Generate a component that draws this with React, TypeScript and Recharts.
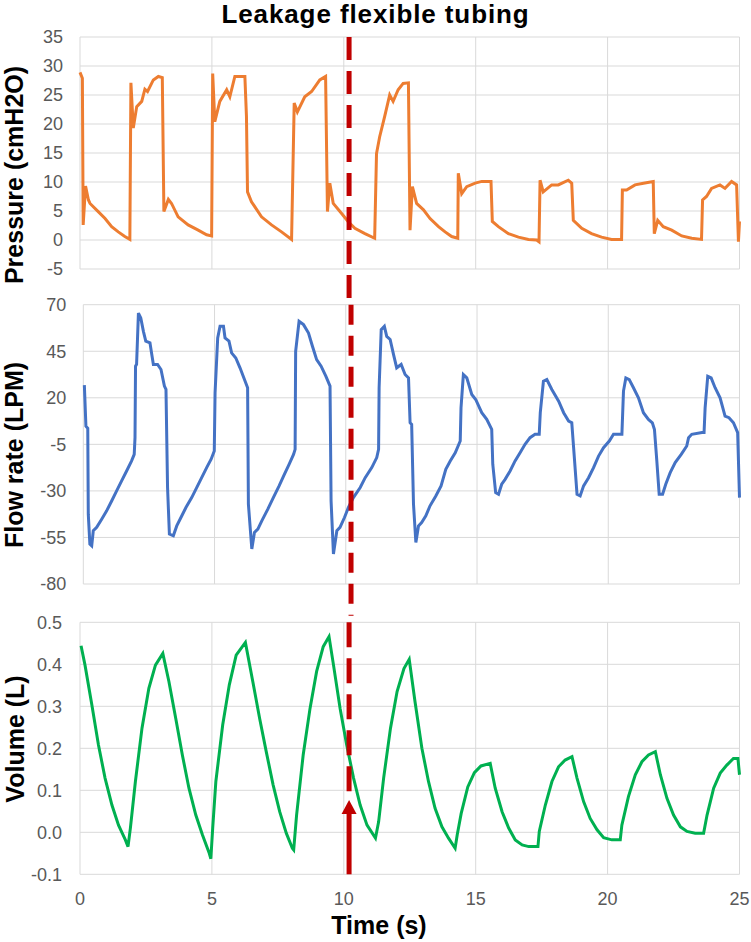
import { LineChart, Line, XAxis, YAxis, CartesianGrid, ReferenceLine } from "recharts";

// time axis
const X_TICKS = [0, 5, 10, 15, 20, 25];
const MARK_T = 10.2;

// pressure (cmH2O)
const P_TICKS = [-5, 0, 5, 10, 15, 20, 25, 30, 35];
const P_T = [
  0.0, 0.09, 0.12, 0.21, 0.32, 0.38, 0.69, 0.95, 1.2, 1.45, 1.7, 1.89,
  1.93, 2.02, 2.15, 2.34, 2.46, 2.56, 2.78, 2.97, 3.12, 3.18, 3.35, 3.47, 3.72, 4.1, 4.48, 4.8, 4.99,
  5.03, 5.11, 5.3, 5.56, 5.68, 5.87, 6.25, 6.31, 6.35, 6.5, 6.88, 7.26, 7.64, 8.02,
  8.12, 8.24, 8.52, 8.78, 9.09, 9.31, 9.38, 9.47, 9.6, 9.91, 10.16, 10.42, 10.8, 11.17,
  11.24, 11.36, 11.55, 11.74, 11.87, 12.06, 12.25, 12.45, 12.51, 12.6, 12.76, 13.02, 13.27, 13.59, 13.84, 14.09, 14.32,
  14.34, 14.47, 14.66, 14.98, 15.23, 15.58, 15.63, 15.86, 16.24, 16.62, 17.0, 17.31, 17.4,
  17.44, 17.56, 17.88, 18.13, 18.51, 18.64, 18.7, 19.02, 19.39, 19.77, 20.15, 20.53,
  20.56, 20.72, 21.04, 21.36, 21.73, 21.77, 21.9, 22.11, 22.43, 22.81, 23.19, 23.56,
  23.6, 23.75, 23.94, 24.26, 24.45, 24.7, 24.89, 24.96, 25.0,
];
const P_V = [
  28.9, 27.9, 2.6, 9.3, 6.9, 6.3, 4.9, 3.7, 2.3, 1.4, 0.6, 0.1,
  27.1, 19.3, 23.0, 23.9, 26.0, 25.6, 27.6, 28.2, 28.0, 4.9, 7.0, 6.3, 4.0, 2.6, 1.7, 0.9, 0.7,
  28.7, 20.4, 23.9, 25.9, 24.7, 28.2, 28.2, 21.3, 8.3, 6.6, 4.0, 2.6, 1.4, 0.1,
  23.6, 22.1, 24.7, 25.6, 27.6, 28.2, 4.9, 9.8, 6.3, 4.6, 3.2, 2.0, 1.1, 0.3,
  14.9, 17.8, 21.3, 25.0, 23.9, 25.9, 27.0, 27.1, 1.7, 9.2, 6.3, 5.2, 3.7, 2.3, 1.4, 0.6, 0.3,
  11.5, 8.0, 9.2, 9.8, 10.1, 10.1, 3.2, 2.3, 1.1, 0.5, 0.1, 0.0, -0.3,
  10.3, 8.3, 9.5, 9.5, 10.3, 9.8, 3.4, 2.0, 1.1, 0.5, 0.1, 0.1,
  8.6, 8.6, 9.5, 9.8, 10.1, 1.1, 3.4, 2.3, 1.7, 0.7, 0.3, 0.1,
  6.9, 7.5, 8.9, 9.5, 8.9, 10.1, 9.5, -0.3, 3.2,
];

// flow rate (LPM)
const F_TICKS = [-80, -55, -30, -5, 20, 45, 70];
const F_T = [
  0.04, 0.1, 0.17, 0.19, 0.25, 0.32, 0.38, 0.51, 0.7, 0.89, 1.08, 1.27, 1.46, 1.65, 1.84, 1.94,
  1.97, 1.99, 2.03, 2.1, 2.19, 2.29, 2.38, 2.54, 2.6, 2.67, 2.83, 2.96, 3.09, 3.15,
  3.21, 3.28, 3.43, 3.56, 3.72, 3.91, 4.13, 4.32, 4.51, 4.7, 4.87, 4.99,
  5.02, 5.12, 5.21, 5.34, 5.4, 5.55, 5.65, 5.81, 5.97, 6.14, 6.26,
  6.29, 6.42, 6.52, 6.65, 6.8, 7.03, 7.24, 7.46, 7.66, 7.84, 8.01, 8.07,
  8.09, 8.22, 8.39, 8.58, 8.73, 8.89, 9.06, 9.24, 9.4,
  9.44, 9.53, 9.66, 9.78, 9.95, 10.1, 10.29, 10.55, 10.74, 10.99, 11.18, 11.25,
  11.27, 11.35, 11.47, 11.56, 11.69, 11.82, 11.94, 12.11, 12.26, 12.39, 12.45, 12.51,
  12.58, 12.67, 12.77, 12.89, 13.05, 13.21, 13.43, 13.63, 13.81, 13.98, 14.17, 14.36,
  14.39, 14.48, 14.61, 14.8, 14.95, 15.18, 15.37, 15.56,
  15.6, 15.71, 15.82, 15.94, 16.07, 16.26, 16.45, 16.64, 16.83, 17.02, 17.21, 17.37,
  17.41, 17.53, 17.66, 17.85, 18.11, 18.3, 18.49, 18.61,
  18.68, 18.81, 18.93, 19.06, 19.25, 19.44, 19.63, 19.82, 20.04, 20.2, 20.52,
  20.58, 20.67, 20.8, 20.96, 21.15, 21.34, 21.53, 21.68, 21.76,
  21.85, 21.94, 22.07, 22.19, 22.36, 22.55, 22.78, 22.99, 23.06, 23.18, 23.57, 23.65,
  23.69, 23.79, 23.92, 24.07, 24.26, 24.45, 24.6, 24.77, 24.93, 25.0,
];
const F_V = [
  26.8, 4.8, 3.6, -42.5, -58.6, -59.5, -51.4, -49.6, -45.2, -40.7, -35.4, -30.0, -24.6, -19.3, -13.9, -10.4,
  -1.4, 37.0, 38.0, 65.5, 62.9, 55.7, 50.4, 49.5, 44.1, 37.9, 37.9, 35.2, 26.3, 24.5,
  -28.2, -53.2, -54.1, -48.8, -44.3, -38.9, -33.6, -28.2, -22.9, -17.5, -13.0, -8.6,
  22.7, 52.1, 58.4, 58.4, 52.1, 50.4, 44.1, 41.4, 36.1, 29.8, 25.4,
  -37.1, -61.2, -52.3, -50.5, -46.1, -39.8, -33.6, -27.3, -21.1, -15.7, -10.4, -7.7,
  45.0, 61.1, 59.3, 54.8, 47.7, 40.5, 37.0, 31.6, 26.3,
  -35.4, -63.9, -51.4, -49.6, -44.3, -38.9, -33.6, -28.2, -22.9, -17.5, -12.1, -7.7,
  25.4, 56.6, 58.4, 53.0, 51.3, 43.2, 36.1, 37.9, 32.5, 30.7, 6.6, 5.7,
  -37.1, -57.7, -48.8, -47.0, -43.4, -38.0, -32.7, -27.3, -18.4, -13.9, -9.5, -3.2,
  14.6, 32.5, 30.7, 21.8, 19.1, 12.0, 8.4, 3.0,
  -15.7, -30.9, -31.8, -26.4, -23.8, -19.3, -13.9, -9.5, -5.0, -1.4, 0.4, 0.4,
  12.0, 28.9, 29.8, 24.5, 18.2, 12.0, 7.5, 6.6,
  -6.8, -31.8, -32.7, -27.3, -22.9, -17.5, -11.3, -6.8, -3.2, 0.4, 0.4,
  23.6, 30.7, 29.8, 25.4, 20.0, 12.0, 8.4, 6.6, 3.0,
  -13.9, -31.8, -31.8, -26.4, -20.2, -14.8, -10.4, -5.9, -1.4, 0.4, 1.3, 1.3,
  14.6, 31.6, 30.7, 25.4, 20.0, 10.2, 9.3, 6.6, 1.3, -33.6,
];

// volume (L)
const V_TICKS = [-0.1, 0, 0.1, 0.2, 0.3, 0.4, 0.5];
const V_T = [
  0.04, 0.19, 0.45, 0.7, 0.95, 1.21, 1.46, 1.72, 1.82,
  1.91, 2.1, 2.35, 2.61, 2.86, 3.14,
  3.37, 3.63, 3.88, 4.13, 4.39, 4.64, 4.9, 4.96,
  5.03, 5.15, 5.41, 5.66, 5.92, 6.27,
  6.55, 6.81, 7.06, 7.32, 7.57, 7.82, 8.05, 8.1,
  8.21, 8.46, 8.72, 8.97, 9.22, 9.44,
  9.61, 9.86, 10.11, 10.37, 10.62, 10.88, 11.2,
  11.32, 11.51, 11.77, 12.02, 12.28, 12.48,
  12.7, 12.96, 13.21, 13.46, 13.72, 13.97, 14.22,
  14.3, 14.45, 14.7, 14.95, 15.2, 15.55,
  15.74, 16.0, 16.25, 16.5, 16.76, 17.01, 17.36,
  17.41, 17.64, 17.89, 18.14, 18.39, 18.65,
  18.84, 19.09, 19.34, 19.6, 19.85, 20.16, 20.48,
  20.54, 20.79, 21.05, 21.3, 21.55, 21.81,
  22.0, 22.25, 22.5, 22.76, 23.01, 23.32, 23.64,
  23.77, 24.02, 24.27, 24.52, 24.77, 24.94, 25.0,
];
const V_V = [
  0.444, 0.398, 0.303, 0.208, 0.129, 0.065, 0.017, -0.018, -0.034,
  0.01, 0.121, 0.248, 0.343, 0.398, 0.426,
  0.359, 0.271, 0.184, 0.105, 0.041, -0.006, -0.05, -0.063,
  0.01, 0.121, 0.256, 0.351, 0.422, 0.452,
  0.359, 0.271, 0.192, 0.113, 0.049, -0.002, -0.038, -0.042,
  0.041, 0.184, 0.295, 0.383, 0.442, 0.466,
  0.398, 0.295, 0.208, 0.129, 0.065, 0.017, -0.014,
  0.025, 0.129, 0.248, 0.335, 0.39, 0.412,
  0.311, 0.2, 0.121, 0.057, 0.013, -0.014, -0.038,
  -0.006, 0.045, 0.108, 0.142, 0.158, 0.164,
  0.105, 0.049, 0.01, -0.018, -0.03, -0.034, -0.034,
  0.002, 0.065, 0.121, 0.156, 0.172, 0.18,
  0.129, 0.073, 0.033, 0.006, -0.013, -0.018, -0.018,
  0.017, 0.085, 0.137, 0.168, 0.184, 0.192,
  0.137, 0.081, 0.041, 0.013, 0.002, -0.002, -0.002,
  0.041, 0.105, 0.141, 0.16, 0.176, 0.176, 0.137,
];

const toRows = (ts: number[], vs: number[]) => ts.map((t, i) => ({ t, v: vs[i] }));

const FONT = "'Liberation Sans', Arial, sans-serif";
const GRID = "#d9d9d9";
const RED = "#c00000";
const TICK = { fontSize: 18, fill: "#595959", fontFamily: FONT };

const boldLabel = {
  position: "absolute" as const,
  fontFamily: FONT,
  fontWeight: 700,
  fontSize: 25,
  color: "#000",
  whiteSpace: "nowrap" as const,
};

function YTitle({ text, x, y }: { text: string; x: number; y: number }) {
  return (
    <div style={{ ...boldLabel, left: x, top: y, transform: "translate(-50%, -50%) rotate(-90deg)" }}>
      {text}
    </div>
  );
}

const Arrow = (p: any) => (
  <g>
    <line x1={p.x1} y1={p.y1} x2={p.x2} y2={p.y2 + 10} stroke={RED} strokeWidth={5} />
    <polygon
      points={`${p.x2},${p.y2} ${p.x2 - 7.5},${p.y2 + 14} ${p.x2 + 7.5},${p.y2 + 14}`}
      fill={RED}
    />
  </g>
);

export default function App() {
  const pData = toRows(P_T, P_V);
  const fData = toRows(F_T, F_V);
  const vData = toRows(V_T, V_V);

  return (
    <div style={{ position: "absolute", left: 0, top: 0, width: 751, height: 942, background: "#fff" }}>
      <div
        style={{
          ...boldLabel,
          left: 0,
          top: 0,
          width: 751,
          textAlign: "center",
          fontSize: 26,
          lineHeight: "28px",
          letterSpacing: 0.9,
        }}
      >
        Leakage flexible tubing
      </div>

      <div style={{ position: "absolute", left: 0, top: 20 }}>
        <LineChart width={751} height={278} data={pData} margin={{ top: 17, right: 11.5, bottom: 29, left: 0 }}>
          <CartesianGrid stroke={GRID} />
          <XAxis type="number" dataKey="t" domain={[0, 25]} ticks={X_TICKS} hide />
          <YAxis
            type="number"
            domain={[-5, 35]}
            ticks={P_TICKS}
            interval={0}
            width={80}
            axisLine={false}
            tickLine={false}
            tickSize={0}
            tickMargin={17}
            tick={TICK}
          />
          <Line type="linear" dataKey="v" stroke="#ed7d31" strokeWidth={3} dot={false} isAnimationActive={false} />
          <ReferenceLine
            segment={[{ x: MARK_T, y: 35 }, { x: MARK_T, y: -10 }]}
            ifOverflow="visible"
            stroke={RED}
            strokeWidth={5}
            strokeDasharray="23 11"
          />
        </LineChart>
      </div>

      <div style={{ position: "absolute", left: 0, top: 288 }}>
        <LineChart width={751} height={328} data={fData} margin={{ top: 16.7, right: 11.5, bottom: 32, left: 0 }}>
          <CartesianGrid stroke={GRID} />
          <XAxis type="number" dataKey="t" domain={[0, 25]} ticks={X_TICKS} hide />
          <YAxis
            type="number"
            domain={[-80, 70]}
            ticks={F_TICKS}
            interval={0}
            width={83.3}
            axisLine={false}
            tickLine={false}
            tickSize={0}
            tickMargin={17}
            tick={TICK}
          />
          <Line type="linear" dataKey="v" stroke="#4472c4" strokeWidth={3} dot={false} isAnimationActive={false} />
          <ReferenceLine
            segment={[{ x: MARK_T, y: 70 }, { x: MARK_T, y: -97 }]}
            ifOverflow="visible"
            stroke={RED}
            strokeWidth={5}
            strokeDasharray="20 11"
          />
        </LineChart>
      </div>

      <div style={{ position: "absolute", left: 0, top: 606 }}>
        <LineChart width={751} height={336} data={vData} margin={{ top: 16.3, right: 11.5, bottom: 27.7, left: 0 }}>
          <CartesianGrid stroke={GRID} />
          <XAxis
            type="number"
            dataKey="t"
            domain={[0, 25]}
            ticks={X_TICKS}
            interval={0}
            height={40}
            axisLine={false}
            tickLine={false}
            tickSize={0}
            tickMargin={18}
            tick={TICK}
          />
          <YAxis
            type="number"
            domain={[-0.1, 0.5]}
            ticks={V_TICKS}
            interval={0}
            width={80}
            axisLine={false}
            tickLine={false}
            tickSize={0}
            tickMargin={18}
            tick={TICK}
            tickFormatter={(v: number) => v.toFixed(1)}
          />
          <Line type="linear" dataKey="v" stroke="#00b050" strokeWidth={3} dot={false} isAnimationActive={false} />
          <ReferenceLine
            segment={[{ x: MARK_T, y: 0.5 }, { x: MARK_T, y: 0.085 }]}
            ifOverflow="visible"
            stroke={RED}
            strokeWidth={5}
            strokeDasharray="25 11"
          />
          <ReferenceLine
            segment={[{ x: MARK_T, y: -0.1 }, { x: MARK_T, y: 0.077 }]}
            ifOverflow="visible"
            shape={Arrow}
          />
        </LineChart>
      </div>

      <YTitle text="Pressure (cmH2O)" x={14} y={175} />
      <YTitle text="Flow rate (LPM)" x={14} y={455} />
      <YTitle text="Volume (L)" x={15} y={739} />
      <div style={{ ...boldLabel, left: 379, top: 925, transform: "translate(-50%, -50%)" }}>Time (s)</div>
    </div>
  );
}
